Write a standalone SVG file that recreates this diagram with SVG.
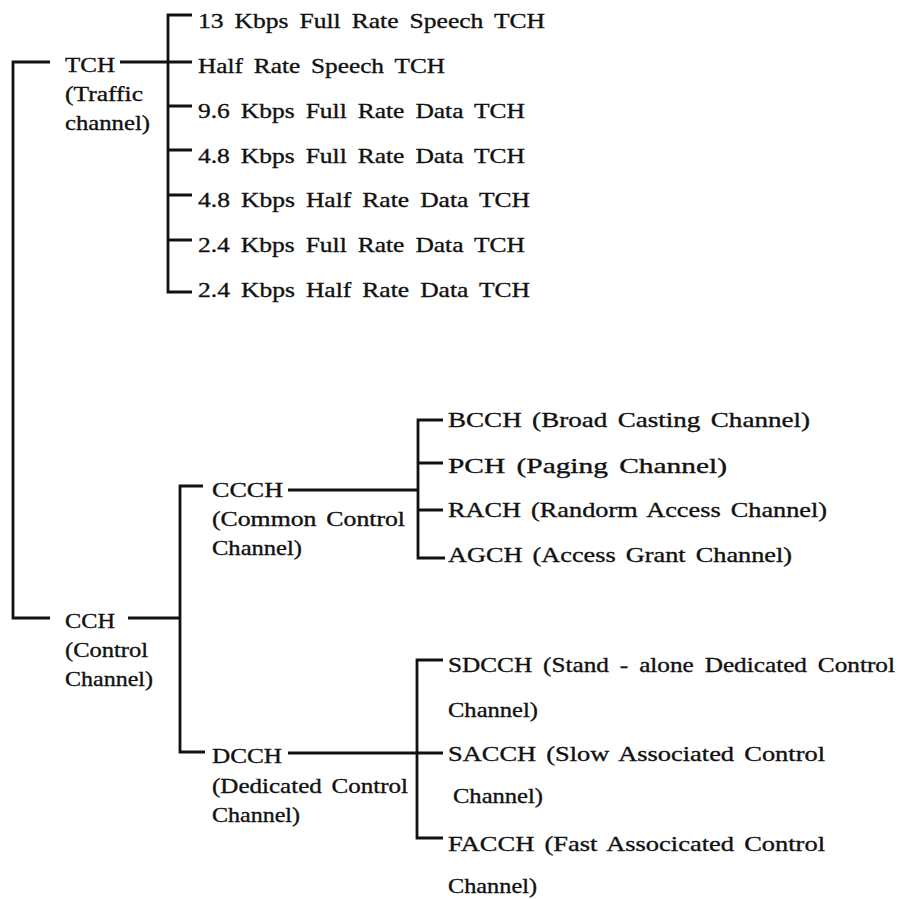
<svg xmlns="http://www.w3.org/2000/svg" width="900" height="899" viewBox="0 0 900 899">
<style>
text{font-family:"Liberation Serif","Times New Roman",serif;font-size:22px;fill:#111;stroke:#111;stroke-width:0.35}
.w{word-spacing:4px}
.v{word-spacing:3px}
.c{fill:none;stroke:#111;stroke-width:2.8;stroke-linecap:butt;stroke-linejoin:miter}
</style>
<rect width="900" height="899" fill="#fff"/>
<g id="connectors">
<path class="c" d="M50 62H13V618H50"/>
<path class="c" d="M120 62H192"/>
<path class="c" d="M192 15H168V292H192"/>
<path class="c" d="M168 106H192M168 150H192M168 195H192M168 240H192"/>
<path class="c" d="M128 618H180"/>
<path class="c" d="M203 486H180V752H205"/>
<path class="c" d="M288 490H418"/>
<path class="c" d="M443 420H418V558H445"/>
<path class="c" d="M418 463H443M418 510H443"/>
<path class="c" d="M288 753H443"/>
<path class="c" d="M443 660H417V838H443"/>
</g>
<g id="tch">
<text x="65" y="72" textLength="50" lengthAdjust="spacingAndGlyphs">TCH</text>
<text x="65" y="101" textLength="78" lengthAdjust="spacingAndGlyphs">(Traffic</text>
<text x="65" y="130" textLength="85" lengthAdjust="spacingAndGlyphs">channel)</text>
</g>
<g id="tch-items">
<text class="w" x="198" y="28" textLength="347" lengthAdjust="spacingAndGlyphs">13 Kbps Full Rate Speech TCH</text>
<text class="w" x="198" y="73" textLength="247" lengthAdjust="spacingAndGlyphs">Half Rate Speech TCH</text>
<text class="w" x="198" y="118" textLength="327" lengthAdjust="spacingAndGlyphs">9.6 Kbps Full Rate Data TCH</text>
<text class="w" x="198" y="163" textLength="327" lengthAdjust="spacingAndGlyphs">4.8 Kbps Full Rate Data TCH</text>
<text class="w" x="198" y="207" textLength="332" lengthAdjust="spacingAndGlyphs">4.8 Kbps Half Rate Data TCH</text>
<text class="w" x="198" y="252" textLength="327" lengthAdjust="spacingAndGlyphs">2.4 Kbps Full Rate Data TCH</text>
<text class="w" x="198" y="297" textLength="332" lengthAdjust="spacingAndGlyphs">2.4 Kbps Half Rate Data TCH</text>
</g>
<g id="cch">
<text x="65" y="628" textLength="50" lengthAdjust="spacingAndGlyphs">CCH</text>
<text x="65" y="657" textLength="83" lengthAdjust="spacingAndGlyphs">(Control</text>
<text x="65" y="686" textLength="88" lengthAdjust="spacingAndGlyphs">Channel)</text>
</g>
<g id="ccch">
<text x="212" y="497" textLength="71" lengthAdjust="spacingAndGlyphs">CCCH</text>
<text class="v" x="212" y="526" textLength="193" lengthAdjust="spacingAndGlyphs">(Common Control</text>
<text x="212" y="555" textLength="90" lengthAdjust="spacingAndGlyphs">Channel)</text>
</g>
<g id="ccch-items">
<text class="v" x="448" y="427" textLength="362" lengthAdjust="spacingAndGlyphs">BCCH (Broad Casting Channel)</text>
<text class="v" x="448" y="473" textLength="279" lengthAdjust="spacingAndGlyphs">PCH (Paging Channel)</text>
<text class="v" x="448" y="517" textLength="379" lengthAdjust="spacingAndGlyphs">RACH (Randorm Access Channel)</text>
<text class="v" x="448" y="562" textLength="344" lengthAdjust="spacingAndGlyphs">AGCH (Access Grant Channel)</text>
</g>
<g id="dcch">
<text x="212" y="763" textLength="70" lengthAdjust="spacingAndGlyphs">DCCH</text>
<text class="v" x="212" y="793" textLength="196" lengthAdjust="spacingAndGlyphs">(Dedicated Control</text>
<text x="212" y="822" textLength="88" lengthAdjust="spacingAndGlyphs">Channel)</text>
</g>
<g id="dcch-items">
<text class="w" x="448" y="672" textLength="447" lengthAdjust="spacingAndGlyphs">SDCCH (Stand - alone Dedicated Control</text>
<text x="448" y="717" textLength="90" lengthAdjust="spacingAndGlyphs">Channel)</text>
<text class="v" x="448" y="761" textLength="377" lengthAdjust="spacingAndGlyphs">SACCH (Slow Associated Control</text>
<text x="453" y="803" textLength="90" lengthAdjust="spacingAndGlyphs">Channel)</text>
<text class="v" x="448" y="851" textLength="377" lengthAdjust="spacingAndGlyphs">FACCH (Fast Associcated Control</text>
<text x="448" y="893" textLength="89" lengthAdjust="spacingAndGlyphs">Channel)</text>
</g>
</svg>
